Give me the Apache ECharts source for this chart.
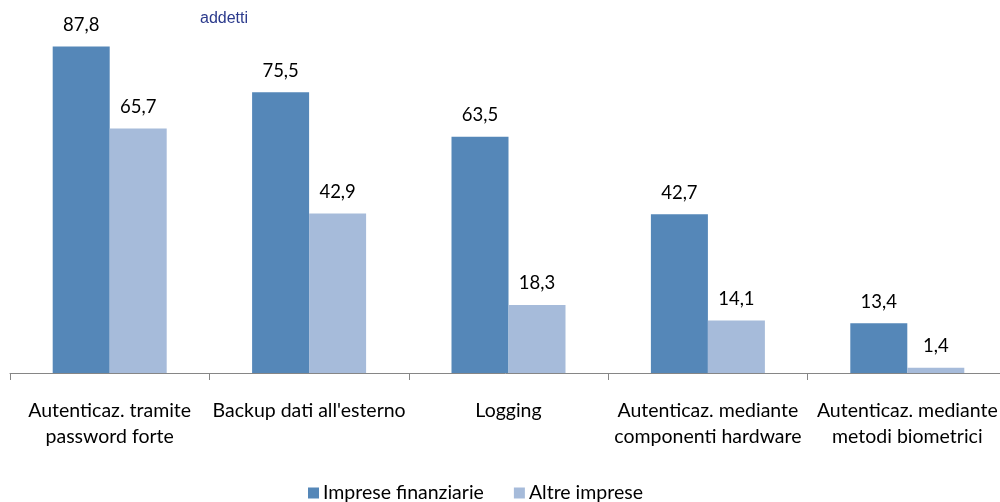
<!DOCTYPE html>
<html>
<head>
<meta charset="utf-8">
<script src="https://cdn.jsdelivr.net/npm/echarts@6/dist/echarts.min.js"></script>
<style>
  html, body { margin: 0; padding: 0; background: #fff; }
  #chart { width: 1000px; height: 502px; }
</style>
</head>
<body>
<div id="chart"></div>
<script>
var categories = [
  "Autenticaz. tramite\npassword forte",
  "Backup dati all'esterno",
  "Logging",
  "Autenticaz. mediante\ncomponenti hardware",
  "Autenticaz. mediante\nmetodi biometrici"
];
var impreseFinanziarie = [87.8, 75.5, 63.5, 42.7, 13.4];
var altreImprese = [65.7, 42.9, 18.3, 14.1, 1.4];

var font = "Lato, 'Open Sans', sans-serif";

function commaLabel(p) {
  return String(p.value).replace(".", ",");
}

var chart = echarts.init(document.getElementById("chart"));
chart.setOption({
  animation: false,
  textStyle: { fontFamily: font },
  graphic: [
    {
      type: "text",
      left: 200,
      top: 11,
      style: { text: "addetti", fill: "#2b3a8c", font: "16px 'Liberation Sans Narrow', 'Liberation Sans', Arial, sans-serif" }
    }
  ],
  legend: {
    bottom: -6,
    left: 303,
    itemWidth: 11,
    itemHeight: 11,
    itemGap: 30,
    icon: "rect",
    textStyle: { fontSize: 19.5, color: "#000", fontFamily: font, padding: [0, 0, 0, -1] },
    data: ["Imprese finanziarie", "Altre imprese"]
  },
  grid: { left: 10, top: 1, width: 997, bottom: 129, outerBoundsMode: "none", containLabel: false },
  xAxis: {
    type: "category",
    data: categories,
    axisLine: { lineStyle: { color: "#868686" } },
    axisTick: { show: true, length: 7, lineStyle: { color: "#868686" } },
    axisLabel: {
      interval: 0,
      margin: 25,
      fontSize: 19.5,
      lineHeight: 26,
      color: "#000",
      fontFamily: font
    }
  },
  yAxis: {
    type: "value",
    min: 0,
    max: 100,
    show: false,
    splitLine: { show: false }
  },
  series: [
    {
      name: "Imprese finanziarie",
      type: "bar",
      data: impreseFinanziarie,
      barWidth: 57,
      barGap: "0%",
      itemStyle: { color: "#5587B8" },
      label: {
        show: true,
        position: "top",
        distance: 12,
        fontSize: 18.5,
        color: "#000",
        fontFamily: font,
        formatter: commaLabel
      }
    },
    {
      name: "Altre imprese",
      type: "bar",
      data: altreImprese,
      barWidth: 57,
      barGap: "0%",
      itemStyle: { color: "#A6BBDA" },
      label: {
        show: true,
        position: "top",
        distance: 12,
        fontSize: 18.5,
        color: "#000",
        fontFamily: font,
        formatter: commaLabel
      }
    }
  ]
});
</script>
</body>
</html>
